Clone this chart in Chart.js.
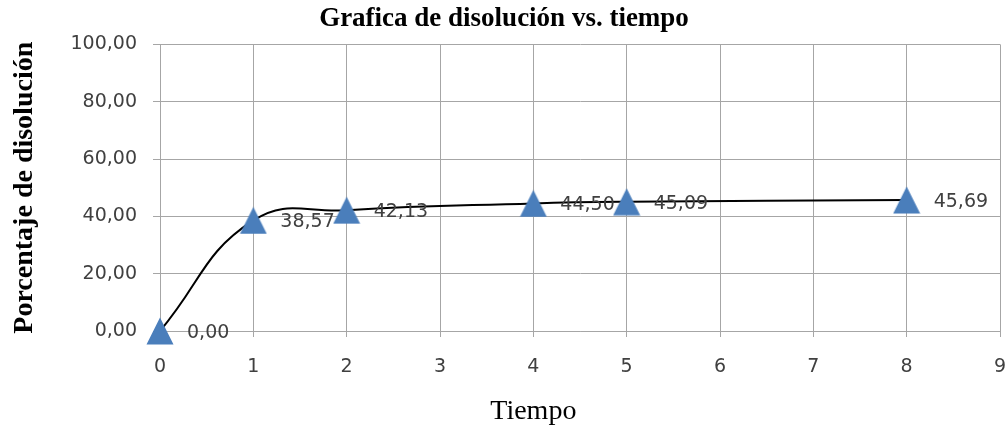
<!DOCTYPE html>
<html>
<head>
<meta charset="utf-8">
<script src="https://cdn.jsdelivr.net/npm/chart.js@4/dist/chart.umd.min.js"></script>
<style>
  html, body { margin: 0; padding: 0; background: #fff; }
  #wrap { width: 1008px; height: 434px; }
</style>
</head>
<body>
<div id="wrap"><canvas id="chart"></canvas></div>
<script>
const tiempos = [0, 1, 2, 4, 5, 8]
const disolucion = [0.00, 38.57, 42.13, 44.50, 45.09, 45.69]
const yTicks = [0, 20, 40, 60, 80, 100]
const xTicks = [0, 1, 2, 3, 4, 5, 6, 7, 8, 9]

const fmt = v => v.toFixed(2).replace('.', ',')

// Excel-like marker: triangle centred on its box, not on its centroid
const marker = document.createElement('canvas')
marker.width = 28
marker.height = 28
const mctx = marker.getContext('2d')
mctx.fillStyle = '#4a7ebb'
mctx.beginPath()
mctx.moveTo(14, 0.5)
mctx.lineTo(27.5, 27.5)
mctx.lineTo(0.5, 27.5)
mctx.closePath()
mctx.fill()

// value labels right of each marker + x axis title
const valueLabels = {
    id: 'valueLabels',
    afterDatasetsDraw(chart) {
        const ctx = chart.ctx
        const meta = chart.getDatasetMeta(0)
        ctx.save()
        ctx.font = '19px "DejaVu Sans"'
        ctx.fillStyle = '#404040'
        ctx.textAlign = 'left'
        ctx.textBaseline = 'middle'
        meta.data.forEach((pt, i) => {
            ctx.fillText(fmt(disolucion[i]), pt.x + 27, pt.y + 2)
        })
        ctx.font = '28px "Liberation Serif"'
        ctx.fillStyle = '#000'
        ctx.textAlign = 'center'
        ctx.fillText('Tiempo', chart.scales.x.getPixelForValue(4), chart.height - 22)
        ctx.restore()
    }
}

new Chart(document.getElementById('chart'), {
    type: 'line',
    data: {
        datasets: [{
            data: tiempos.map((t, i) => ({ x: t, y: disolucion[i] })),
            borderColor: '#000',
            borderWidth: 2,
            tension: 0.45,
            clip: false,
            pointStyle: marker,
            pointRadius: 14
        }]
    },
    options: {
        responsive: true,
        maintainAspectRatio: false,
        animation: false,
        layout: { padding: 0, autoPadding: false },
        plugins: {
            legend: { display: false },
            tooltip: { enabled: false },
            title: {
                display: true,
                text: 'Grafica de disolución vs. tiempo',
                color: '#000',
                font: { family: '"Liberation Serif"', size: 27, weight: 'bold' },
                padding: { top: 3, bottom: 9 }
            }
        },
        scales: {
            x: {
                type: 'linear',
                min: 0,
                max: 9,
                afterBuildTicks: s => { s.ticks = xTicks.map(v => ({ value: v })) },
                afterFit: s => {
                    s.height = 103
                    s.paddingLeft = 0
                    s.paddingRight = 8
                },
                grid: { color: '#a6a6a6', tickLength: 6, lineWidth: 1 },
                border: { color: '#a6a6a6' },
                ticks: {
                    color: '#404040',
                    font: { family: '"DejaVu Sans"', size: 19 },
                    padding: 19,
                    maxRotation: 0
                }
            },
            y: {
                min: 0,
                max: 100,
                afterBuildTicks: s => { s.ticks = yTicks.map(v => ({ value: v })) },
                afterFit: s => { s.width = 160 },
                grid: { color: '#a6a6a6', tickLength: 7, lineWidth: 1 },
                border: { color: '#a6a6a6' },
                ticks: {
                    color: '#404040',
                    font: { family: '"DejaVu Sans"', size: 19 },
                    padding: 16,
                    callback: v => fmt(v)
                },
                title: {
                    display: true,
                    text: 'Porcentaje de disolución',
                    color: '#000',
                    font: { family: '"Liberation Serif"', size: 28, weight: 'bold' },
                    padding: { top: 8 }
                }
            }
        }
    },
    plugins: [valueLabels]
})
</script>
</body>
</html>
